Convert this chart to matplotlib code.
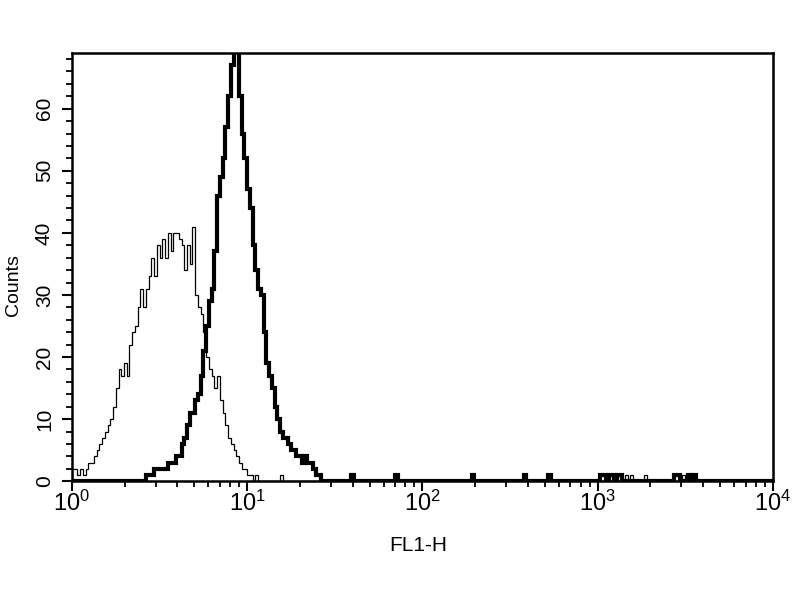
import numpy as np
import matplotlib
matplotlib.use("Agg")
import matplotlib.pyplot as plt
from matplotlib.ticker import MultipleLocator, LogLocator, LogFormatterMathtext, NullFormatter

plt.rcParams['font.family'] = ['Liberation Sans', 'DejaVu Sans']
plt.rcParams['mathtext.fontset'] = 'custom'
plt.rcParams['mathtext.rm'] = 'Liberation Sans'
plt.rcParams['mathtext.it'] = 'Liberation Sans'

# ---- data: 256 log channels over 4 decades (64 per decade) ----
N_CH = 256
CH_PER_DECADE = 64

# isotype control (thin line), counts from channel 0
thin_counts = [2, 2, 1, 2, 1, 2, 3, 3, 4, 5, 6, 7, 8, 9, 10, 12, 15, 18, 17, 19,
               17, 22, 24, 25, 28, 31, 28, 31, 33, 36, 33, 38, 36, 39, 36, 40, 37, 40, 40, 39,
               38, 34, 38, 35, 41, 30, 28, 27, 24, 20, 18, 17, 15, 17, 13, 11, 9, 7, 6, 5,
               4, 3, 2, 2, 1, 1, 0]
thin_events = [67, 76, 202, 204, 209, 223]

# stained sample (thick line), counts from channel 27
thick_start = 27
thick_counts = [1, 1, 1, 2, 2, 2, 2, 2, 3, 3, 3, 4, 4, 6, 7, 9, 11, 11, 13, 14,
                17, 21, 25, 29, 31, 37, 46, 49, 52, 57, 62, 67, 70, 72, 62, 56, 52, 47, 44, 38,
                34, 31, 30, 24, 19, 17, 15, 12, 10, 8, 7, 7, 6, 5, 5, 4, 4, 3, 4, 3,
                3, 2, 1, 1]
thick_events = [102, 118, 146, 165, 174, 193, 194, 196, 197, 199, 200, 220, 221, 225, 227]

x_label = "FL1-H"
y_label = "Counts"
y_max = 69

# ---- build histograms ----
edges = 10.0 ** (np.arange(N_CH + 1) / CH_PER_DECADE)
thin = np.zeros(N_CH)
thin[:len(thin_counts)] = thin_counts
for c in thin_events:
    thin[c] += 1
thick = np.zeros(N_CH)
thick[thick_start:thick_start + len(thick_counts)] = thick_counts
for c in thick_events:
    thick[c] += 1

fig = plt.figure(figsize=(8, 6), dpi=100)
ax = fig.add_axes([0.09, 0.198, 0.876, 0.714])

ax.stairs(thin, edges, color='black', linewidth=0.9)
ax.stairs(thick, edges, color='black', linewidth=3.0)

ax.set_xscale('log')
ax.set_xlim(1, 1e4)
ax.set_ylim(0, y_max)

ax.yaxis.set_major_locator(MultipleLocator(10))
ax.yaxis.set_minor_locator(MultipleLocator(2))
ax.xaxis.set_major_locator(LogLocator(base=10, numticks=10))
ax.xaxis.set_minor_locator(LogLocator(base=10, subs=np.arange(2, 10), numticks=20))
ax.xaxis.set_major_formatter(LogFormatterMathtext())
ax.xaxis.set_minor_formatter(NullFormatter())

for s in ax.spines.values():
    s.set_linewidth(1.8)

ax.tick_params(which='major', direction='out', length=7, width=1.5)
ax.tick_params(which='minor', direction='out', length=4, width=1.3)
ax.tick_params(axis='x', which='major', labelsize=17, pad=0)
ax.tick_params(axis='y', which='major', labelsize=15, pad=6)
for lbl in ax.get_yticklabels():
    lbl.set_rotation(90)
    lbl.set_va('center')

ax.set_xlabel(x_label, fontsize=15)
ax.xaxis.set_label_coords(0.494, -0.128)
ax.set_ylabel(y_label, fontsize=14)
ax.yaxis.set_label_coords(-0.071, 0.458)

fig.savefig('out.png', dpi=100, facecolor='white')
